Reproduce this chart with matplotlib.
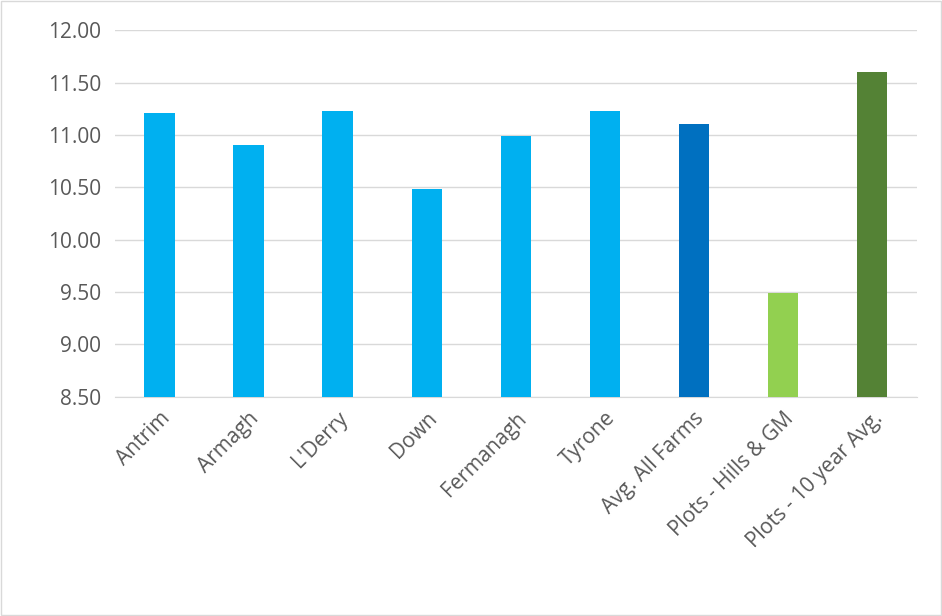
import matplotlib
matplotlib.use("Agg")
import matplotlib.pyplot as plt
from matplotlib.patches import Rectangle

categories = ["Antrim", "Armagh", "L'Derry", "Down", "Fermanagh", "Tyrone",
              "Avg. All Farms", "Plots - Hills & GM", "Plots - 10 year Avg."]
values = [11.21, 10.90, 11.23, 10.48, 10.99, 11.23, 11.10, 9.49, 11.60]
colors = ["#00B0F0"] * 6 + ["#0070C0", "#92D050", "#548235"]
yticks = [8.5, 9.0, 9.5, 10.0, 10.5, 11.0, 11.5, 12.0]

plt.rcParams['font.family'] = ['Open Sans', 'DejaVu Sans']
fig = plt.figure(figsize=(9.42, 6.16), dpi=100)
ax = fig.add_axes([0.122, 0.356, 0.851, 0.595])
x = range(len(categories))
ax.bar(x, [v - 8.5 for v in values], bottom=8.5, width=0.34, color=colors, zorder=3)
ax.set_ylim(8.5, 12.0)
ax.set_xlim(-0.5, len(categories) - 0.5)
ax.set_yticks(yticks)
ax.set_yticklabels([f"{t:.2f}" for t in yticks], fontsize=15, color="#595959")
ax.set_xticks(list(x))
ax.set_xticklabels(categories, rotation=45, ha="right", rotation_mode="anchor",
                   fontsize=15, color="#595959")
ax.grid(axis="y", color="#D9D9D9", linewidth=1, zorder=0)
for s in ["top", "right", "left"]:
    ax.spines[s].set_visible(False)
ax.spines["bottom"].set_color("#D9D9D9")
ax.tick_params(axis="y", length=0, pad=10)
ax.tick_params(axis="x", length=0, pad=8)
fig.patches.append(Rectangle((0.001, 0.001), 0.998, 0.998, transform=fig.transFigure,
                             fill=False, edgecolor="#D9D9D9", linewidth=1))
fig.savefig("out.png", dpi=100)
